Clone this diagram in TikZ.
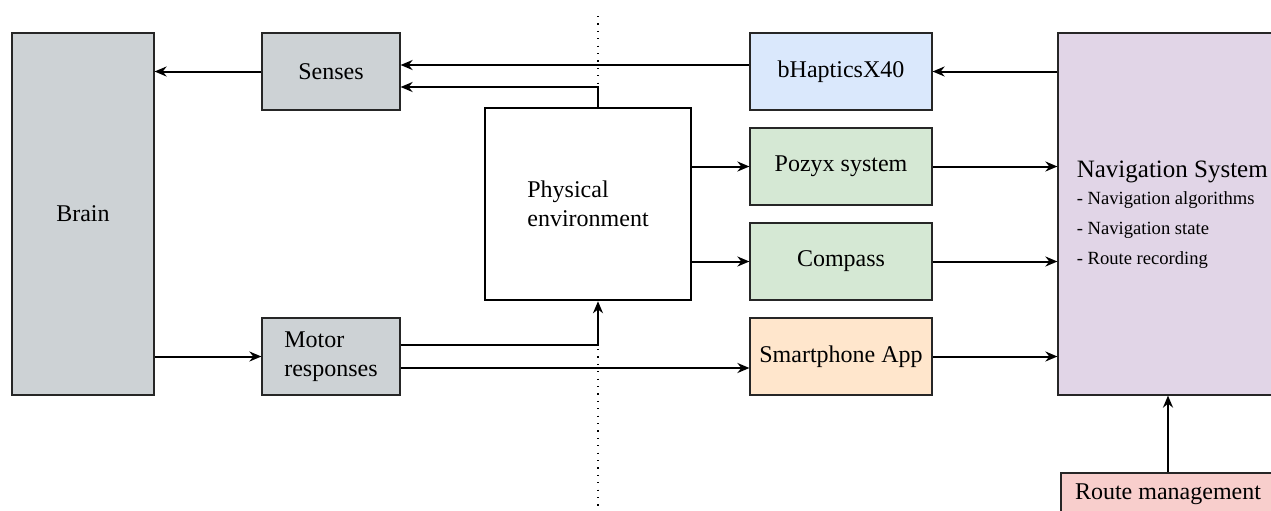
\documentclass[tikz,border=0pt]{standalone}
\usepackage{fontspec}
\setmainfont{Liberation Serif}
\usepackage{xcolor}
\usetikzlibrary{positioning,calc,arrows.meta}

\definecolor{humanGray}{HTML}{CDD2D5}
\definecolor{outBlue}{HTML}{DAE8FC}
\definecolor{sensGreen}{HTML}{D5E8D4}
\definecolor{appOrange}{HTML}{FFE6CC}
\definecolor{navPurple}{HTML}{E1D5E7}
\definecolor{routeRed}{HTML}{F8CECC}

\begin{document}
\begin{tikzpicture}[
	x=0.5pt, y=-0.5pt,
	font=\fontsize{12}{14.5}\selectfont,
	% khung chung cho cac khoi
	sys_box/.style={draw=black!85, line width=0.6pt, minimum width=69pt, minimum height=38.5pt, anchor=center, inner sep=2pt},
	flow_arrow/.style={
		->, >={Stealth[length=6pt,width=5pt]},
		black, line width=1pt
	}
	]
	% --- KHUNG HINH ---
	\clip (0,0) rectangle (1271,510);
	
	% --- DUONG CHIA ---
	\coordinate (divtop) at (598,16);
	\coordinate (divbot) at (598,510);
	\draw[black, line width=0.6pt, dash pattern=on 0.6pt off 3.1pt] (divtop) -- (divbot);
	
	% --- CAC KHOI ---
	\node[sys_box, fill=humanGray, minimum width=71pt, minimum height=181pt] (brain) at (83,214) {Brain};
	\node[sys_box, fill=humanGray] (senses) at (331,71.5) {Senses};
	\node[sys_box, fill=humanGray, align=left] (motor) at (331,356.5) {Motor\\responses};
	\node[draw=black, fill=white, line width=1.25pt, minimum width=103pt, minimum height=96pt, align=left] (phys) at (588,204) {Physical\\environment};
	\node[sys_box, fill=outBlue, minimum width=91pt] (bhap) at (841,71.5) {bHapticsX40};
	\node[sys_box, fill=sensGreen, minimum width=91pt] (pozyx) at (841,166.5) {Pozyx system};
	\node[sys_box, fill=sensGreen, minimum width=91pt] (compass) at (841,261.5) {Compass};
	\node[sys_box, fill=appOrange, minimum width=91pt] (smart) at (841,356.5) {Smartphone App};
	\node[sys_box, fill=navPurple, minimum width=110pt, minimum height=181pt] (nav) at (1168,214) {};
	\node[sys_box, fill=routeRed, minimum width=107pt, minimum height=21pt] (route) at (1168,494) {Route management};
	
	% --- CHU TRONG KHOI NAVIGATION ---
	\node[anchor=west, align=left, inner sep=0pt, font=\fontsize{9.3}{15}\selectfont] (navtxt) at ([xshift=9.5pt,yshift=-0.5pt]nav.west)
	{{\fontsize{12.5}{15}\selectfont Navigation System}\\[-1.5pt]
		- Navigation algorithms\\
		- Navigation state\\
		- Route recording};
	
	% --- DIEM PHU ---
	\coordinate (sIn1) at ([yshift=3.25pt]senses.east);
	\coordinate (sIn2) at ([yshift=-7.75pt]senses.east);
	\coordinate (mOut1) at ([yshift=5.75pt]motor.east);
	\coordinate (mOut2) at ([yshift=-5.75pt]motor.east);
	
	% --- MUI TEN ---
	% Senses -> Brain
	\draw[flow_arrow] (senses.west) -- (senses.west -| brain.east);
	% bHaptics -> Senses
	\draw[flow_arrow] (sIn1 -| bhap.west) -- (sIn1);
	% Physical -> Senses
	\draw[flow_arrow] (divtop |- phys.north) |- (sIn2);
	% Brain -> Motor
	\draw[flow_arrow] (brain.east |- motor.west) -- (motor.west);
	% Motor -> Physical
	\draw[flow_arrow] (mOut1) -| (divtop |- phys.south);
	% Motor -> Smartphone
	\draw[flow_arrow] (mOut2) -- (mOut2 -| smart.west);
	% Physical -> Pozyx, Compass
	\draw[flow_arrow] (phys.east |- pozyx.west) -- (pozyx.west);
	\draw[flow_arrow] (phys.east |- compass.west) -- (compass.west);
	% Navigation -> bHaptics
	\draw[flow_arrow] (nav.west |- bhap.east) -- (bhap.east);
	% Pozyx, Compass, Smartphone -> Navigation
	\draw[flow_arrow] (pozyx.east) -- (pozyx.east -| nav.west);
	\draw[flow_arrow] (compass.east) -- (compass.east -| nav.west);
	\draw[flow_arrow] (smart.east) -- (smart.east -| nav.west);
	% Route -> Navigation
	\draw[flow_arrow] (route.north) -- (nav.south);
	
\end{tikzpicture}
\end{document}
